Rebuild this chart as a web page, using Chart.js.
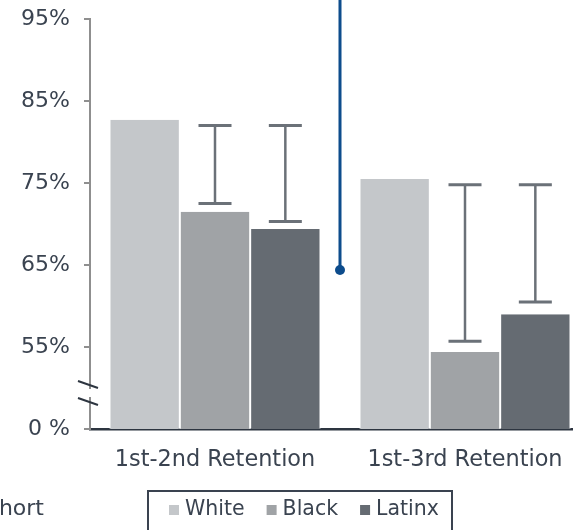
<!DOCTYPE html>
<html>
<head>
<meta charset="utf-8">
<script src="https://cdn.jsdelivr.net/npm/chart.js@4.4.1/dist/chart.umd.min.js"></script>
<style>
html, body { margin: 0; padding: 0; overflow: hidden; background: #fff; }
#wrap { width: 600px; height: 530px; }
</style>
</head>
<body>
<div id="wrap"><canvas id="retentionChart" width="600" height="530"></canvas></div>
<script>
const categories = ["1st-2nd Retention", "1st-3rd Retention"];
const groups = ["White", "Black", "Latinx"];
const whiteRates = [82.7, 75.5];
const blackRates = [71.5, 54.4];
const latinxRates = [69.4, 59.0];

// whisker ranges over the Black and Latinx bars
const blackGapLow = [72.5, 55.7];
const blackGapHigh = [82.0, 74.8];
const latinxGapLow = [70.3, 60.5];
const latinxGapHigh = [82.0, 74.8];

// axis is broken: the bottom tick stands for 0 %
const yTicks = [45, 55, 65, 75, 85, 95];
const yTickLabels = ["0 %", "55%", "65%", "75%", "85%", "95%"];

// marker between the two groups
const markerPoint = { x: 0.5, y: 64.4 };

const colors = ["#c4c7ca", "#a0a3a6", "#656b72"];
const textColor = "#3a4350";
const blue = "#0d4c8c";

Chart.defaults.font.family = "'DejaVu Sans', Verdana, sans-serif";
Chart.defaults.font.size = 22;
Chart.defaults.color = textColor;

const extras = {
  id: "extras",
  afterDatasetsDraw(chart) {
    const ctx = chart.ctx;
    const y = chart.scales.y;
    const x2 = chart.scales.x2;
    const sets = [[1, blackGapLow, blackGapHigh], [2, latinxGapLow, latinxGapHigh]];
    ctx.save();
    ctx.strokeStyle = "#6b7178";
    sets.forEach(([di, lows, highs]) => {
      chart.getDatasetMeta(di).data.forEach((bar, i) => {
        const y0 = y.getPixelForValue(lows[i]);
        const y1 = y.getPixelForValue(highs[i]);
        ctx.lineWidth = 2.5;
        ctx.beginPath();
        ctx.moveTo(bar.x, y0);
        ctx.lineTo(bar.x, y1);
        ctx.stroke();
        ctx.lineWidth = 3;
        ctx.beginPath();
        ctx.moveTo(bar.x - 16.5, y0);
        ctx.lineTo(bar.x + 16.5, y0);
        ctx.moveTo(bar.x - 16.5, y1);
        ctx.lineTo(bar.x + 16.5, y1);
        ctx.stroke();
      });
    });

    // marker with a leader line up to the top edge
    const mx = x2.getPixelForValue(markerPoint.x);
    const my = y.getPixelForValue(markerPoint.y);
    ctx.strokeStyle = blue;
    ctx.fillStyle = blue;
    ctx.lineWidth = 3;
    ctx.beginPath();
    ctx.moveTo(mx, my);
    ctx.lineTo(mx, 0);
    ctx.stroke();
    ctx.beginPath();
    ctx.arc(mx, my, 5, 0, Math.PI * 2);
    ctx.fill();
    ctx.restore();
  },
  afterDraw(chart) {
    const ctx = chart.ctx;
    const y = chart.scales.y;
    const left = chart.chartArea.left;

    // axis break: gap in the axis line between two slashes
    const yb = y.getPixelForValue(50);
    ctx.save();
    ctx.fillStyle = "#ffffff";
    ctx.fillRect(left - 3, yb + 1, 6, 8);
    ctx.strokeStyle = "#2d3540";
    ctx.lineWidth = 2;
    ctx.beginPath();
    ctx.moveTo(left - 12, yb - 7);
    ctx.lineTo(left + 8, yb);
    ctx.moveTo(left - 12, yb + 10);
    ctx.lineTo(left + 8, yb + 17);
    ctx.stroke();

    // legend in a framed box
    ctx.font = "20.5px 'DejaVu Sans', Verdana, sans-serif";
    ctx.textBaseline = "middle";
    const sq = 10, gapIn = 6, gapOut = 22;
    const widths = groups.map(g => ctx.measureText(g).width);
    const cy = 510;
    let x = 169;
    ctx.strokeStyle = textColor;
    ctx.lineWidth = 2;
    ctx.strokeRect(148, 491, 304, 60);
    groups.forEach((g, i) => {
      ctx.fillStyle = colors[i];
      ctx.fillRect(x, cy - sq / 2, sq, sq);
      x += sq + gapIn;
      ctx.fillStyle = textColor;
      ctx.textAlign = "left";
      ctx.fillText(g, x, cy);
      x += widths[i] + gapOut;
    });

    ctx.font = "22px 'DejaVu Sans', Verdana, sans-serif";
    ctx.textAlign = "right";
    ctx.textBaseline = "alphabetic";
    ctx.fillText("Cohort", 44, 515);
    ctx.restore();
  }
};

new Chart(document.getElementById("retentionChart"), {
  type: "bar",
  data: {
    labels: categories,
    datasets: [whiteRates, blackRates, latinxRates].map((vals, i) => ({
      label: groups[i],
      data: vals,
      backgroundColor: colors[i],
      borderColor: "#ffffff",
      borderWidth: { left: 1, right: 1, top: 0, bottom: 0 },
      borderSkipped: false,
      categoryPercentage: 0.844,
      barPercentage: 1
    }))
  },
  options: {
    responsive: false,
    animation: false,
    layout: { padding: { top: 19, right: 10, bottom: 0, left: 0 } },
    plugins: {
      legend: { display: false },
      tooltip: { enabled: false }
    },
    scales: {
      x: {
        grid: { display: false, drawTicks: false },
        border: { display: true, color: "#2d3540", width: 2.5 },
        ticks: { padding: 18, color: textColor, font: { size: 22.4 } },
        afterFit: s => { s.height = 101; s.paddingLeft = 0; s.paddingRight = 0; }
      },
      x2: {
        type: "linear",
        display: false,
        min: -0.5,
        max: 1.5
      },
      y: {
        min: 45,
        max: 95,
        grid: { drawOnChartArea: false, drawTicks: true, tickLength: 6, color: "#8f8f8f", lineWidth: 2 },
        border: { display: true, color: "#8f8f8f", width: 2 },
        afterBuildTicks: s => { s.ticks = yTicks.map(v => ({ value: v })); },
        ticks: {
          padding: 14,
          color: textColor,
          callback: (v, i) => yTickLabels[i]
        },
        afterFit: s => { s.width = 90; s.paddingTop = 0; s.paddingBottom = 0; }
      }
    }
  },
  plugins: [extras]
});
</script>
</body>
</html>
